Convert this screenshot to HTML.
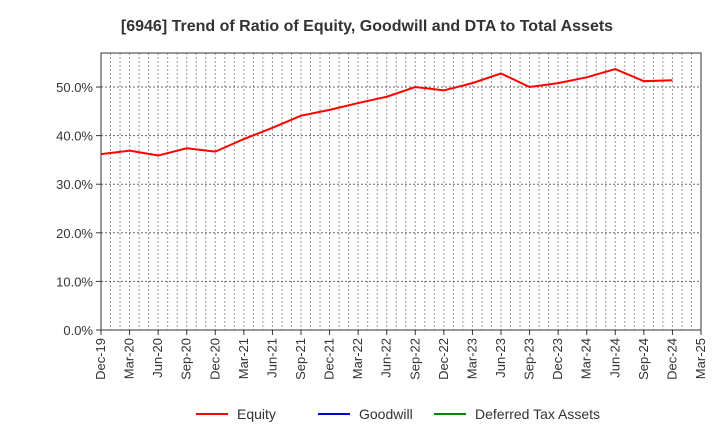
<!DOCTYPE html>
<html><head><meta charset="utf-8"><style>
body{margin:0;background:#fff;font-family:"Liberation Sans",sans-serif}
</style></head><body>
<svg id="c" width="720" height="440" xmlns="http://www.w3.org/2000/svg">
<text x="367" y="31" text-anchor="middle" font-size="16" font-weight="bold" fill="#333">[6946]  Trend of Ratio of Equity, Goodwill and DTA to Total Assets</text>
<g id="grid"></g><g id="axes"></g><g id="series"></g>
<g>
<line x1="196" y1="414" x2="228" y2="414" stroke="#f00" stroke-width="2"/><text x="237" y="419" font-size="14" fill="#333">Equity</text>
<line x1="318" y1="414" x2="350" y2="414" stroke="#00c" stroke-width="2"/><text x="359" y="419" font-size="14" fill="#333">Goodwill</text>
<line x1="434" y1="414" x2="466" y2="414" stroke="#080" stroke-width="2"/><text x="475" y="419" font-size="14" fill="#333">Deferred Tax Assets</text>
</g>
</svg>
<script>
const categories=["Dec-19","Mar-20","Jun-20","Sep-20","Dec-20","Mar-21","Jun-21","Sep-21","Dec-21","Mar-22","Jun-22","Sep-22","Dec-22","Mar-23","Jun-23","Sep-23","Dec-23","Mar-24","Jun-24","Sep-24","Dec-24","Mar-25"];
const equity=[36.2,36.9,35.9,37.4,36.7,39.3,41.6,44.1,45.3,46.7,48.0,50.0,49.3,50.8,52.8,50.0,50.8,52.0,53.7,51.2,51.4];
const yTicks=[0,10,20,30,40,50];
const L=101,R=701,T=53,B=330,yMax=57;
const ns="http://www.w3.org/2000/svg";
const xs=i=>L+i*(R-L)/(categories.length-1);
const ys=v=>B-v*(B-T)/yMax;
function mk(t,a,p){const e=document.createElementNS(ns,t);for(const k in a)e.setAttribute(k,a[k]);p.appendChild(e);return e;}
const g=document.getElementById('grid'),ax=document.getElementById('axes'),s=document.getElementById('series');
for(let m=1;m<(categories.length-1)*3;m++){const x=L+m*(R-L)/((categories.length-1)*3);
const l=mk('line',{x1:x,x2:x,y1:T,y2:B,stroke:'#999','stroke-dasharray':'2,2','stroke-width':1},g);

}
yTicks.forEach(v=>{const y=ys(v);
if(v>0){const l=mk('line',{x1:L,x2:R,y1:y,y2:y,stroke:'#666','stroke-dasharray':'2,2'},g);

}
mk('line',{x1:L-5,x2:L,y1:y,y2:y,stroke:'#333'},ax);
const t=mk('text',{x:L-8,y:y+5,'text-anchor':'end','font-size':'13',fill:'#333'},ax);t.textContent=v.toFixed(1)+'%';

});
const fr=mk('rect',{x:L,y:T,width:R-L,height:B-T,fill:'none',stroke:'#333'},ax);


categories.forEach((c,i)=>{const x=xs(i);mk('line',{x1:x,x2:x,y1:B,y2:B+5,stroke:'#333'},ax);
const t=mk('text',{x:x+4,y:B+8,'text-anchor':'end','font-size':'13',fill:'#333',transform:`rotate(-90 ${x+4} ${B+8})`},ax);t.textContent=c;

});
const p=mk('polyline',{points:equity.map((v,i)=>xs(i)+','+ys(v)).join(' '),fill:'none',stroke:'#f00','stroke-width':2},s);


</script>
</body></html>
